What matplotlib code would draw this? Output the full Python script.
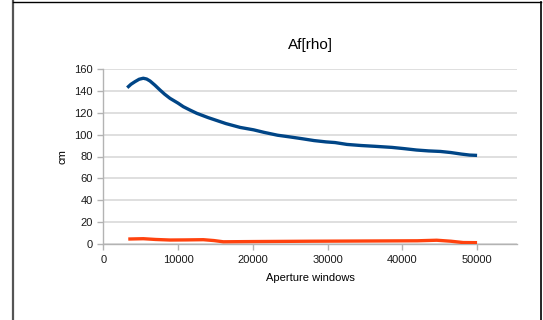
import matplotlib
matplotlib.use('Agg')
import matplotlib.pyplot as plt

plt.rcParams['font.family'] = ['Liberation Sans', 'DejaVu Sans']

# blue series
blue_x = [3200, 3700, 4240, 4800, 5350, 5800, 6250, 6900, 7580, 8200, 8920,
          10000, 10700, 11600, 12490, 14000, 16400, 18300, 20100, 21500, 23300,
          25000, 26600, 28200, 29800, 31000, 32600, 34500, 36300, 38600, 40200,
          41900, 43500, 45100, 46500, 47900, 49000, 50000]
blue_y = [142.7, 145.8, 148.2, 150.4, 151.3, 150.6, 148.8, 145.0, 140.6, 136.8, 133.0,
          128.6, 125.4, 122.3, 119.4, 115.5, 110.0, 106.5, 104.3, 102.0, 99.4,
          97.8, 96.2, 94.5, 93.3, 92.7, 91.0, 90.0, 89.3, 88.3, 87.2,
          85.9, 85.1, 84.6, 83.6, 82.2, 81.3, 81.0]

# red series
red_x = [3340, 5350, 7000, 8920, 11000, 13380, 14800, 16050, 20000, 27650,
         35000, 42000, 44600, 46500, 48150, 50000]
red_y = [4.8, 5.1, 4.4, 3.9, 4.0, 4.2, 3.4, 2.3, 2.5, 2.8,
         3.0, 3.2, 3.7, 2.8, 1.6, 1.5]

xticks = [0, 10000, 20000, 30000, 40000, 50000]
yticks = [0, 20, 40, 60, 80, 100, 120, 140, 160]

fig = plt.figure(figsize=(5.43, 3.2), dpi=100, facecolor='white')

# page frame
fig.add_artist(plt.Line2D([13 / 543, 13 / 543], [0, 1 - 1 / 320], transform=fig.transFigure,
                          color='#555555', linewidth=1.6))
fig.add_artist(plt.Line2D([13 / 543, 541 / 543], [1 - 1.5 / 320, 1 - 1.5 / 320],
                          transform=fig.transFigure, color='black', linewidth=1.0))
fig.add_artist(plt.Line2D([541 / 543, 541 / 543], [0, 1 - 1.5 / 320], transform=fig.transFigure,
                          color='black', linewidth=1.2))

ax = fig.add_axes([103.3 / 543, 1 - 244.3 / 320, (517.3 - 103.3) / 543, (244.3 - 68.7) / 320])

ax.plot(blue_x, blue_y, color='#004586', linewidth=2.4, solid_capstyle='butt',
        solid_joinstyle='round', zorder=3)
ax.plot(red_x, red_y, color='#ff420e', linewidth=2.4, solid_capstyle='butt',
        solid_joinstyle='round', zorder=3)

ax.set_xlim(0, 55380)
ax.set_ylim(0, 160)
ax.set_xticks(xticks)
ax.set_yticks(yticks)
ax.set_xticklabels([str(v) for v in xticks])
ax.grid(axis='y', color='#d9d9d9', linewidth=1.2)
ax.set_axisbelow(True)

for s in ['top', 'right']:
    ax.spines[s].set_visible(False)
for s in ['left', 'bottom']:
    ax.spines[s].set_color('#b3b3b3')
    ax.spines[s].set_linewidth(1.0)
ax.tick_params(colors='#b3b3b3', labelcolor='#1a1a1a', labelsize=8, length=4, width=1.0)

ax.set_title('Af[rho]', fontsize=11, pad=14)
ax.set_xlabel('Aperture windows', fontsize=8, labelpad=6)
ax.set_ylabel('cm', fontsize=8, labelpad=5)

fig.savefig('out.png', dpi=100, facecolor='white')
